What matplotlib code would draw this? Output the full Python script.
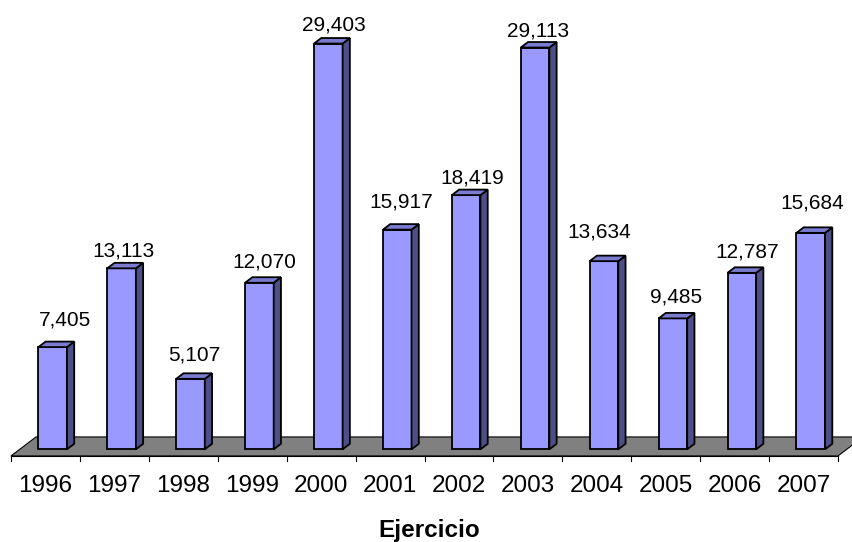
import matplotlib
matplotlib.use("Agg")
import matplotlib.pyplot as plt
from matplotlib.patches import Polygon

years = ["1996", "1997", "1998", "1999", "2000", "2001",
         "2002", "2003", "2004", "2005", "2006", "2007"]
values = [7405, 13113, 5107, 12070, 29403, 15917,
          18419, 29113, 13634, 9485, 12787, 15684]
x_title = "Ejercicio"

# per-label nudges (pixels): horizontal shift from bar face centre,
# and gap between the bar top and the label baseline
label_dx = [12.8, 1.7, 4.1, 5.0, 5.2, 4.2, 6.2, 3.4, -5.0, 3.2, 4.9, 1.8]
label_gap = [16.6, 6.0, 12.6, 10.0, 7.7, 16.7, 6.0, 5.7, 18.0, 10.0, 10.3, 18.4]

plt.rcParams["font.family"] = ["Liberation Sans", "DejaVu Sans"]

W, H, DPI = 852, 542, 100
fig = plt.figure(figsize=(W / DPI, H / DPI), dpi=DPI)
ax = fig.add_axes([0, 0, 1, 1])
ax.set_axis_off()

# scale: pixels per x unit (one category) and per value unit
px_x = 827 / len(years)
px_y = 0.0138
x_left_px, base_px = 11, 449.3          # floor front-left x, bar base y (from top)
ax.set_xlim(-0.5 - x_left_px / px_x, -0.5 + (W - x_left_px) / px_x)
ax.set_ylim(-(H - base_px) / px_y, base_px / px_y)

# oblique depth of the floor (full) and bars
DX = 25 / px_x
DY = 19 / px_y
d0, d1 = 0.35, 0.64                     # bar depth span within the floor
Y0 = -d0 * DY                           # floor front edge value

n = len(years)
floor = Polygon([(-0.5, Y0), (n - 0.5, Y0), (n - 0.5 + DX, Y0 + DY),
                 (-0.5 + DX, Y0 + DY)], closed=True,
                facecolor="#808080", edgecolor="black", lw=0.8, zorder=1)
ax.add_patch(floor)

# front axis line and tick marks
ax.plot([-0.5, n - 0.5], [Y0, Y0], color="black", lw=0.8, zorder=2)
tick_len = 5 / px_y
for k in range(n + 1):
    xk = k - 0.5
    ax.plot([xk, xk], [Y0, Y0 - tick_len], color="black", lw=0.8, zorder=2)

front_c, side_c, top_c = "#9999FF", "#4F4F88", "#7B7BD0"
bw = 0.415
off = 0.27
bdx = (d1 - d0) * DX
bdy = (d1 - d0) * DY
for i, v in enumerate(values):
    xl = i - 0.5 + off + d0 * DX
    xr = xl + bw
    yb = 0
    yt = v
    front = Polygon([(xl, yb), (xr, yb), (xr, yt), (xl, yt)],
                    facecolor=front_c, edgecolor="black", lw=1.3,
                    joinstyle="miter", zorder=3)
    side = Polygon([(xr, yb), (xr + bdx, yb + bdy), (xr + bdx, yt + bdy),
                    (xr, yt)], facecolor=side_c, edgecolor="black", lw=1.3,
                   joinstyle="miter", zorder=3)
    top = Polygon([(xl, yt), (xr, yt), (xr + bdx, yt + bdy),
                   (xl + bdx, yt + bdy)], facecolor=top_c, edgecolor="black",
                  lw=1.3, joinstyle="miter", zorder=3)
    for p in (front, side, top):
        ax.add_patch(p)
    ax.text((xl + xr) / 2 + label_dx[i] / px_x,
            yt + bdy + label_gap[i] / px_y, f"{v:,}",
            ha="center", va="baseline", fontsize=15, color="black", zorder=4)
    ax.text(i, -(491.7 - base_px) / px_y, years[i], ha="center",
            va="baseline", fontsize=17.5, color="black")

ax.text((n - 1) / 2 + 0.07, -(536.7 - base_px) / px_y, x_title, ha="center",
        va="baseline", fontsize=17.5, fontweight="bold", color="black")

fig.savefig("out.png", dpi=DPI)
